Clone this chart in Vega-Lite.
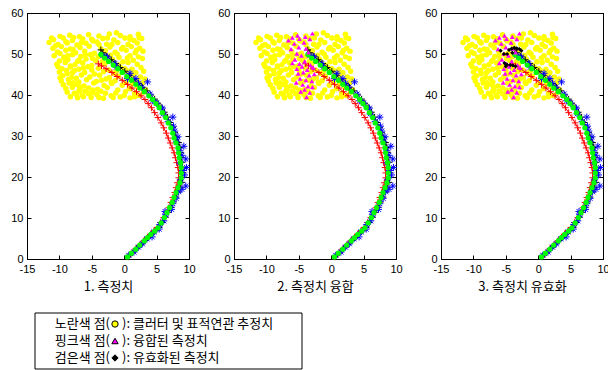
{
"$schema":"https://vega.github.io/schema/vega-lite/v6.json",
"padding":{"left":10,"top":6,"right":0,"bottom":0},
"config":{
 "view":{"stroke":"#000","strokeWidth":1},
 "axis":{"grid":false,"domainColor":"#000","tickColor":"#000","tickSize":-4,"labelPadding":8,"labelFlush":false,"labelOverlap":false,"labelFont":"Liberation Sans","labelFontSize":11,"labelColor":"#000","labelExpr":"'' + datum.value","titleFont":"Noto Sans CJK KR","titleFontSize":13,"titleFontWeight":"normal","titleColor":"#000","titlePadding":6}
},
"datasets":{
"clutter":[
{"x":-8.3,"y":39.6},{"x":-7.2,"y":39.3},{"x":-6.5,"y":40.0},{"x":-5.1,"y":39.4},{"x":-3.2,"y":39.2},{"x":-2.0,"y":39.8},{"x":-0.6,"y":39.5},{"x":0.9,"y":39.3},{"x":2.3,"y":39.9},{"x":-4.2,"y":40.1},
{"x":-8.8,"y":40.7},{"x":-7.7,"y":40.4},{"x":-6.0,"y":40.9},{"x":-4.8,"y":40.6},{"x":-3.6,"y":40.9},{"x":-1.3,"y":40.5},{"x":0.2,"y":40.8},{"x":1.6,"y":40.4},{"x":3.0,"y":40.7},{"x":-7.0,"y":41.0},
{"x":-9.0,"y":41.6},{"x":-8.0,"y":41.9},{"x":-6.8,"y":41.3},{"x":-5.5,"y":41.7},{"x":-4.1,"y":41.4},{"x":-2.6,"y":41.8},{"x":-1.0,"y":41.2},{"x":0.8,"y":41.5},{"x":2.1,"y":41.9},{"x":3.3,"y":41.3},
{"x":-9.4,"y":42.5},{"x":-7.4,"y":42.6},{"x":-6.2,"y":42.2},{"x":-4.7,"y":42.9},{"x":-3.1,"y":42.3},{"x":-1.9,"y":42.8},{"x":-0.3,"y":42.4},{"x":1.3,"y":42.7},{"x":2.6,"y":42.2},{"x":-8.5,"y":42.9},
{"x":-9.7,"y":43.4},{"x":-8.6,"y":43.8},{"x":-7.0,"y":43.2},{"x":-5.8,"y":43.7},{"x":-4.3,"y":43.3},{"x":-2.8,"y":43.9},{"x":-1.4,"y":43.5},{"x":0.3,"y":43.1},{"x":2.0,"y":43.6},{"x":3.2,"y":43.9},
{"x":-9.5,"y":44.7},{"x":-8.1,"y":44.3},{"x":-6.6,"y":44.9},{"x":-5.3,"y":44.4},{"x":-3.8,"y":44.8},{"x":-2.3,"y":44.2},{"x":-0.9,"y":44.6},{"x":1.0,"y":44.9},{"x":2.5,"y":44.4},{"x":-7.4,"y":44.1},
{"x":-10.0,"y":45.6},{"x":-8.8,"y":45.2},{"x":-7.7,"y":45.9},{"x":-6.1,"y":45.5},{"x":-4.6,"y":45.1},{"x":-3.2,"y":45.7},{"x":-1.6,"y":45.3},{"x":0.4,"y":45.9},{"x":1.8,"y":45.4},{"x":3.0,"y":45.8},
{"x":-9.6,"y":46.4},{"x":-8.3,"y":46.8},{"x":-7.0,"y":46.3},{"x":-5.6,"y":46.9},{"x":-4.0,"y":46.5},{"x":-2.4,"y":46.1},{"x":-0.6,"y":46.8},{"x":1.2,"y":46.3},{"x":2.6,"y":46.7},{"x":-10.2,"y":46.9},
{"x":-10.4,"y":47.5},{"x":-9.1,"y":47.9},{"x":-7.6,"y":47.4},{"x":-6.4,"y":47.8},{"x":-5.0,"y":47.2},{"x":-3.0,"y":47.6},{"x":-0.9,"y":47.3},{"x":0.6,"y":47.9},{"x":2.0,"y":47.5},{"x":-8.3,"y":47.1},
{"x":-10.0,"y":48.3},{"x":-8.7,"y":48.6},{"x":-7.2,"y":48.2},{"x":-5.9,"y":48.8},{"x":-4.4,"y":48.4},{"x":-1.8,"y":48.7},{"x":-0.2,"y":48.1},{"x":1.4,"y":48.5},{"x":2.8,"y":48.9},{"x":-3.4,"y":48.1},
{"x":-10.8,"y":49.6},{"x":-9.3,"y":49.2},{"x":-8.0,"y":49.8},{"x":-6.7,"y":49.4},{"x":-5.2,"y":49.9},{"x":-4.0,"y":49.3},{"x":-2.1,"y":49.7},{"x":-0.8,"y":49.2},{"x":0.9,"y":49.6},{"x":2.2,"y":49.3},
{"x":-10.3,"y":50.5},{"x":-9.0,"y":50.9},{"x":-7.5,"y":50.3},{"x":-6.1,"y":50.7},{"x":-4.6,"y":50.2},{"x":-2.9,"y":50.8},{"x":-1.4,"y":50.4},{"x":0.3,"y":50.9},{"x":1.7,"y":50.3},{"x":2.9,"y":50.7},
{"x":-11.0,"y":51.4},{"x":-9.7,"y":51.8},{"x":-8.3,"y":51.2},{"x":-6.8,"y":51.6},{"x":-5.4,"y":51.9},{"x":-3.6,"y":51.3},{"x":-2.2,"y":51.7},{"x":-0.4,"y":51.2},{"x":1.1,"y":51.8},{"x":2.4,"y":51.4},
{"x":-11.6,"y":52.8},{"x":-10.2,"y":52.3},{"x":-8.8,"y":52.7},{"x":-7.3,"y":52.2},{"x":-5.9,"y":52.6},{"x":-4.2,"y":52.9},{"x":-2.7,"y":52.4},{"x":-1.0,"y":52.8},{"x":0.6,"y":52.3},{"x":2.0,"y":52.7},
{"x":-10.9,"y":53.5},{"x":-9.4,"y":53.9},{"x":-8.0,"y":53.3},{"x":-6.4,"y":53.7},{"x":-4.8,"y":53.2},{"x":-3.3,"y":53.8},{"x":-1.6,"y":53.4},{"x":0.1,"y":53.9},{"x":1.5,"y":53.3},{"x":2.7,"y":53.8},
{"x":-9.9,"y":54.3},{"x":-8.4,"y":54.6},{"x":-6.9,"y":54.2},{"x":-5.5,"y":54.7},{"x":-3.9,"y":54.4},{"x":-2.3,"y":54.9},{"x":-0.6,"y":54.5},{"x":0.9,"y":54.2},{"x":2.2,"y":54.8},{"x":-1.2,"y":55.2},
{"x":-11.2,"y":53.9},{"x":-10.6,"y":52.0},{"x":-9.9,"y":50.1},{"x":-9.2,"y":48.9},{"x":-8.9,"y":46.0},{"x":-8.0,"y":45.4},{"x":-7.9,"y":43.0},{"x":-6.9,"y":42.0},{"x":-6.3,"y":39.6},{"x":-5.5,"y":40.3},
{"x":-4.9,"y":41.2},{"x":-2.9,"y":40.4},{"x":-1.7,"y":39.4},{"x":0.0,"y":39.9},{"x":1.6,"y":39.6},{"x":2.8,"y":42.9},{"x":1.5,"y":45.1},{"x":0.1,"y":46.4},{"x":-1.2,"y":45.9},{"x":-2.0,"y":43.1},
{"x":-3.5,"y":43.6},{"x":-5.0,"y":46.1},{"x":-6.3,"y":46.6},{"x":-7.0,"y":48.5},{"x":-6.0,"y":49.8},{"x":-4.9,"y":48.9},{"x":-3.3,"y":49.5},{"x":-1.1,"y":50.0},{"x":0.5,"y":49.0},{"x":1.9,"y":50.9},
{"x":-0.2,"y":51.6},{"x":-1.9,"y":52.3},{"x":-3.9,"y":52.3},{"x":-5.0,"y":53.6},{"x":-6.6,"y":52.8},{"x":-7.8,"y":54.0},{"x":-9.0,"y":53.0},{"x":0.9,"y":53.6},{"x":2.3,"y":54.0},{"x":-2.6,"y":53.9},
{"x":-7.9,"y":51.1},{"x":-8.7,"y":49.6},{"x":-9.9,"y":44.2},{"x":-7.4,"y":40.1},{"x":-3.9,"y":39.4}
],
"truth":[
{"x":0.5,"y":0.5},{"x":1.1,"y":1.4},{"x":1.8,"y":2.4},{"x":2.4,"y":3.4},{"x":3.1,"y":4.4},{"x":3.6,"y":5.2},{"x":4.1,"y":6.0},{"x":4.7,"y":6.8},{"x":5.2,"y":7.6},{"x":5.7,"y":8.8},{"x":6.2,"y":10.1},{"x":6.6,"y":11.3},{"x":7.0,"y":12.5},{"x":7.4,"y":13.8},{"x":7.7,"y":15.0},{"x":8.0,"y":16.2},{"x":8.3,"y":17.4},{"x":8.6,"y":18.6},{"x":8.8,"y":19.8},{"x":8.8,"y":21.0},{"x":8.8,"y":22.3},{"x":8.7,"y":23.5},{"x":8.5,"y":24.7},{"x":8.4,"y":25.9},{"x":8.3,"y":27.1},{"x":8.0,"y":28.3},{"x":7.7,"y":29.5},{"x":7.5,"y":30.7},{"x":7.2,"y":32.0},{"x":6.8,"y":33.2},{"x":6.4,"y":34.5},{"x":5.9,"y":35.7},{"x":5.4,"y":36.9},{"x":4.9,"y":37.9},{"x":4.4,"y":38.9},{"x":3.8,"y":39.8},{"x":3.1,"y":40.8},{"x":2.4,"y":41.7},{"x":1.8,"y":42.6},{"x":1.1,"y":43.6},{"x":0.4,"y":44.5},{"x":-0.3,"y":45.5},{"x":-1.0,"y":46.4},{"x":-1.7,"y":47.3},{"x":-2.4,"y":48.2},{"x":-3.0,"y":49.0},{"x":-3.6,"y":49.9}
],
"red":[
{"k":1,"x":0.6,"y":0.6},{"k":2,"x":1.2,"y":1.5},{"k":3,"x":1.8,"y":2.5},{"k":4,"x":2.4,"y":3.4},{"k":5,"x":3.0,"y":4.4},{"k":6,"x":3.6,"y":5.3},{"k":7,"x":4.1,"y":6.1},{"k":8,"x":4.6,"y":6.9},{"k":9,"x":5.1,"y":7.7},{"k":10,"x":5.6,"y":8.9},{"k":11,"x":6.1,"y":10.1},{"k":12,"x":6.5,"y":11.3},{"k":13,"x":6.9,"y":12.5},{"k":14,"x":7.2,"y":13.8},{"k":15,"x":7.5,"y":15.0},{"k":16,"x":7.8,"y":16.2},{"k":17,"x":8.0,"y":17.4},{"k":18,"x":8.2,"y":18.6},{"k":19,"x":8.4,"y":19.8},{"k":20,"x":8.4,"y":21.0},{"k":21,"x":8.3,"y":22.3},{"k":22,"x":8.1,"y":23.5},{"k":23,"x":7.9,"y":24.7},{"k":24,"x":7.7,"y":25.9},{"k":25,"x":7.4,"y":27.1},{"k":26,"x":7.1,"y":28.3},{"k":27,"x":6.8,"y":29.5},{"k":28,"x":6.5,"y":30.7},{"k":29,"x":6.1,"y":32.0},{"k":30,"x":5.7,"y":33.2},{"k":31,"x":5.2,"y":34.5},{"k":32,"x":4.7,"y":35.7},{"k":33,"x":4.2,"y":36.9},{"k":34,"x":3.7,"y":37.9},{"k":35,"x":3.2,"y":38.9},{"k":36,"x":2.6,"y":39.8},{"k":37,"x":1.9,"y":40.8},{"k":38,"x":1.2,"y":41.7},{"k":39,"x":0.5,"y":42.6},{"k":40,"x":-0.3,"y":43.6},{"k":41,"x":-1.1,"y":44.5},{"k":42,"x":-1.9,"y":45.5},{"k":43,"x":-2.8,"y":46.4},{"k":44,"x":-3.5,"y":47.1},{"k":45,"x":-4.0,"y":47.6}
],
"black":[
{"k":1,"x":0.6,"y":0.5},{"k":2,"x":1.3,"y":1.5},{"k":3,"x":1.9,"y":2.5},{"k":4,"x":2.6,"y":3.5},{"k":5,"x":3.2,"y":4.5},{"k":6,"x":3.8,"y":5.3},{"k":7,"x":4.3,"y":6.1},{"k":8,"x":4.9,"y":6.9},{"k":9,"x":5.4,"y":7.7},{"k":10,"x":5.9,"y":8.9},{"k":11,"x":6.4,"y":10.2},{"k":12,"x":6.8,"y":11.4},{"k":13,"x":7.3,"y":12.6},{"k":14,"x":7.6,"y":13.9},{"k":15,"x":8.0,"y":15.1},{"k":16,"x":8.3,"y":16.3},{"k":17,"x":8.6,"y":17.5},{"k":18,"x":8.9,"y":18.7},{"k":19,"x":9.0,"y":19.9},{"k":20,"x":9.0,"y":21.1},{"k":21,"x":9.0,"y":22.4},{"k":22,"x":8.9,"y":23.6},{"k":23,"x":8.8,"y":24.8},{"k":24,"x":8.7,"y":26.0},{"k":25,"x":8.6,"y":27.2},{"k":26,"x":8.4,"y":28.4},{"k":27,"x":8.1,"y":29.6},{"k":28,"x":7.8,"y":30.8},{"k":29,"x":7.5,"y":32.1},{"k":30,"x":7.1,"y":33.3},{"k":31,"x":6.7,"y":34.6},{"k":32,"x":6.2,"y":35.8},{"k":33,"x":5.7,"y":37.0},{"k":34,"x":5.2,"y":38.0},{"k":35,"x":4.7,"y":39.0},{"k":36,"x":4.1,"y":40.0},{"k":37,"x":3.5,"y":41.0},{"k":38,"x":2.8,"y":41.9},{"k":39,"x":2.2,"y":42.8},{"k":40,"x":1.5,"y":43.8},{"k":41,"x":0.8,"y":44.8},{"k":42,"x":0.1,"y":45.8},{"k":43,"x":-0.6,"y":46.7},{"k":44,"x":-1.3,"y":47.7},{"k":45,"x":-2.0,"y":48.6},{"k":46,"x":-2.7,"y":49.5},{"k":47,"x":-3.3,"y":50.3},{"k":48,"x":-3.6,"y":51.0}
],
"meas":[
{"x":0.7,"y":0.9},{"x":1.5,"y":1.7},{"x":2.2,"y":2.9},{"x":2.8,"y":3.7},{"x":3.5,"y":4.9},{"x":4.3,"y":5.4},{"x":4.6,"y":6.6},{"x":5.4,"y":7.3},{"x":5.5,"y":8.4},{"x":6.1,"y":9.3},{"x":6.4,"y":10.8},{"x":6.3,"y":11.6},{"x":7.3,"y":12.1},{"x":7.5,"y":13.5},{"x":8.0,"y":14.8},{"x":8.4,"y":16.4},{"x":8.9,"y":17.0},{"x":9.5,"y":17.8},{"x":8.7,"y":19.3},{"x":9.3,"y":20.5},{"x":9.0,"y":21.6},{"x":9.6,"y":22.3},{"x":8.6,"y":23.4},{"x":9.5,"y":24.4},{"x":8.9,"y":25.3},{"x":8.6,"y":26.4},{"x":9.2,"y":27.5},{"x":8.1,"y":28.6},{"x":8.3,"y":29.8},{"x":7.8,"y":31.2},{"x":7.6,"y":32.4},{"x":7.5,"y":34.6},{"x":6.8,"y":33.5},{"x":6.0,"y":35.4},{"x":5.9,"y":36.8},{"x":5.0,"y":38.0},{"x":4.4,"y":38.6},{"x":4.0,"y":40.2},{"x":3.6,"y":43.2},{"x":2.7,"y":41.9},{"x":2.2,"y":42.9},{"x":1.8,"y":44.0},{"x":0.9,"y":45.3},{"x":0.5,"y":44.0},{"x":-1.2,"y":46.8},{"x":-1.5,"y":47.6},{"x":-2.6,"y":49.3},{"x":-3.3,"y":49.6}
],
"fused":[
{"x":-6.6,"y":53.3},{"x":-6.0,"y":54.0},{"x":-5.2,"y":54.5},{"x":-4.9,"y":53.7},{"x":-4.2,"y":52.8},{"x":-3.3,"y":53.6},{"x":-2.9,"y":55.0},{"x":-5.7,"y":52.5},{"x":-6.2,"y":51.2},{"x":-5.0,"y":51.6},{"x":-3.9,"y":51.3},{"x":-5.3,"y":50.1},{"x":-4.6,"y":49.6},{"x":-3.5,"y":50.4},{"x":-5.6,"y":48.6},{"x":-4.9,"y":47.6},{"x":-4.1,"y":48.2},{"x":-3.2,"y":47.3},{"x":-5.3,"y":46.4},{"x":-4.5,"y":46.9},{"x":-3.7,"y":46.1},{"x":-2.8,"y":46.7},{"x":-5.1,"y":45.2},{"x":-4.3,"y":45.5},{"x":-3.4,"y":44.8},{"x":-2.6,"y":45.1},{"x":-4.8,"y":44.0},{"x":-3.9,"y":43.6},{"x":-3.0,"y":43.4},{"x":-5.4,"y":43.0},{"x":-4.4,"y":42.5},{"x":-3.6,"y":42.1},{"x":-4.1,"y":41.3},{"x":-3.3,"y":40.6},{"x":-4.7,"y":40.8},{"x":-3.8,"y":39.5},{"x":-2.9,"y":41.9},{"x":-6.0,"y":47.8},{"x":-4.0,"y":54.2}
],
"valid":[
{"x":-5.8,"y":50.8},{"x":-5.3,"y":50.0},{"x":-4.8,"y":50.0},{"x":-4.5,"y":51.0},{"x":-4.1,"y":51.3},{"x":-3.7,"y":51.5},{"x":-3.3,"y":51.4},{"x":-2.9,"y":51.2},{"x":-2.6,"y":50.8},{"x":-4.0,"y":50.3},{"x":-5.2,"y":47.8},{"x":-4.8,"y":47.4},{"x":-4.3,"y":47.3},{"x":-3.9,"y":47.2},{"x":-3.5,"y":47.0},{"x":-5.0,"y":47.0}
],
"legend":[
{"row":1,"pre":"노란색 점(","sym":"clutter","post":"):  클러터  및  표적연관  추정치"},
{"row":2,"pre":"핑크색 점(","sym":"fused","post":"):  융합된  측정치"},
{"row":3,"pre":"검은색 점(","sym":"valid","post":"):  유효화된  측정치"}
]
},
"vconcat":[
{"hconcat":[
{"width":162,"height":246,"resolve":{"axis":{"x":"independent","y":"independent"}},"layer":[
 {"data":{"name":"clutter"},"mark":{"type":"point","filled":true,"shape":"circle","size":30,"color":"#FFFF00","opacity":1},"encoding":{"x":{"field":"x","type":"quantitative","scale":{"domain":[-15,10],"nice":false,"zero":false},"axis":{"values":[-15,-10,-5,0,5,10],"title":"1.  측정치"}},"y":{"field":"y","type":"quantitative","scale":{"domain":[0,60],"nice":false,"zero":false},"axis":{"values":[0,10,20,30,40,50,60],"title":null}}}},
 {"data":{"name":"red"},"mark":{"type":"line","color":"#FF0000","strokeWidth":1},"encoding":{"x":{"field":"x","type":"quantitative","axis":null},"y":{"field":"y","type":"quantitative","axis":null},"order":{"field":"k"}}},
 {"data":{"name":"red"},"mark":{"type":"point","shape":"M-1,0L1,0M0,-1L0,1","filled":false,"color":"#FF0000","size":42,"strokeWidth":1,"opacity":1},"encoding":{"x":{"field":"x","type":"quantitative","axis":null},"y":{"field":"y","type":"quantitative","axis":null}}},
 {"data":{"name":"black"},"mark":{"type":"line","color":"#000000","strokeWidth":1},"encoding":{"x":{"field":"x","type":"quantitative","axis":null},"y":{"field":"y","type":"quantitative","axis":null},"order":{"field":"k"}}},
 {"data":{"name":"black"},"mark":{"type":"point","shape":"M-1,0L1,0M0,-1L0,1","filled":false,"color":"#000000","size":42,"strokeWidth":1,"opacity":1},"encoding":{"x":{"field":"x","type":"quantitative","axis":null},"y":{"field":"y","type":"quantitative","axis":null}}},
 {"data":{"name":"meas"},"mark":{"type":"point","shape":"M-1,0L1,0M0,-1L0,1M-0.7,-0.7L0.7,0.7M-0.7,0.7L0.7,-0.7","filled":false,"color":"#0000FF","size":50,"strokeWidth":1,"opacity":1},"encoding":{"x":{"field":"x","type":"quantitative","axis":null},"y":{"field":"y","type":"quantitative","axis":null}}},
 {"data":{"name":"truth"},"mark":{"type":"point","filled":true,"shape":"circle","size":28,"color":"#00FF00","opacity":1},"encoding":{"x":{"field":"x","type":"quantitative","axis":null},"y":{"field":"y","type":"quantitative","axis":null}}},
 {"data":{"name":"truth"},"mark":{"type":"point","opacity":0},"encoding":{"x":{"field":"x","type":"quantitative","axis":{"orient":"top","labels":false,"values":[-15,-10,-5,0,5,10],"title":null}},"y":{"field":"y","type":"quantitative","axis":{"orient":"right","labels":false,"values":[0,10,20,30,40,50,60],"title":null}}}}
]},
{"width":162,"height":246,"resolve":{"axis":{"x":"independent","y":"independent"}},"layer":[
 {"data":{"name":"clutter"},"mark":{"type":"point","filled":true,"shape":"circle","size":30,"color":"#FFFF00","opacity":1},"encoding":{"x":{"field":"x","type":"quantitative","scale":{"domain":[-15,10],"nice":false,"zero":false},"axis":{"values":[-15,-10,-5,0,5,10],"title":"2.  측정치  융합"}},"y":{"field":"y","type":"quantitative","scale":{"domain":[0,60],"nice":false,"zero":false},"axis":{"values":[0,10,20,30,40,50,60],"title":null}}}},
 {"data":{"name":"red"},"mark":{"type":"line","color":"#FF0000","strokeWidth":1},"encoding":{"x":{"field":"x","type":"quantitative","axis":null},"y":{"field":"y","type":"quantitative","axis":null},"order":{"field":"k"}}},
 {"data":{"name":"red"},"mark":{"type":"point","shape":"M-1,0L1,0M0,-1L0,1","filled":false,"color":"#FF0000","size":42,"strokeWidth":1,"opacity":1},"encoding":{"x":{"field":"x","type":"quantitative","axis":null},"y":{"field":"y","type":"quantitative","axis":null}}},
 {"data":{"name":"black"},"mark":{"type":"line","color":"#000000","strokeWidth":1},"encoding":{"x":{"field":"x","type":"quantitative","axis":null},"y":{"field":"y","type":"quantitative","axis":null},"order":{"field":"k"}}},
 {"data":{"name":"black"},"mark":{"type":"point","shape":"M-1,0L1,0M0,-1L0,1","filled":false,"color":"#000000","size":42,"strokeWidth":1,"opacity":1},"encoding":{"x":{"field":"x","type":"quantitative","axis":null},"y":{"field":"y","type":"quantitative","axis":null}}},
 {"data":{"name":"meas"},"mark":{"type":"point","shape":"M-1,0L1,0M0,-1L0,1M-0.7,-0.7L0.7,0.7M-0.7,0.7L0.7,-0.7","filled":false,"color":"#0000FF","size":50,"strokeWidth":1,"opacity":1},"encoding":{"x":{"field":"x","type":"quantitative","axis":null},"y":{"field":"y","type":"quantitative","axis":null}}},
 {"data":{"name":"truth"},"mark":{"type":"point","filled":true,"shape":"circle","size":28,"color":"#00FF00","opacity":1},"encoding":{"x":{"field":"x","type":"quantitative","axis":null},"y":{"field":"y","type":"quantitative","axis":null}}},
 {"data":{"name":"fused"},"mark":{"type":"point","filled":true,"shape":"triangle-up","size":24,"color":"#FF00FF","opacity":1},"encoding":{"x":{"field":"x","type":"quantitative","axis":null},"y":{"field":"y","type":"quantitative","axis":null}}},
 {"data":{"name":"truth"},"mark":{"type":"point","opacity":0},"encoding":{"x":{"field":"x","type":"quantitative","axis":{"orient":"top","labels":false,"values":[-15,-10,-5,0,5,10],"title":null}},"y":{"field":"y","type":"quantitative","axis":{"orient":"right","labels":false,"values":[0,10,20,30,40,50,60],"title":null}}}}
]},
{"width":162,"height":246,"resolve":{"axis":{"x":"independent","y":"independent"}},"layer":[
 {"data":{"name":"clutter"},"mark":{"type":"point","filled":true,"shape":"circle","size":30,"color":"#FFFF00","opacity":1},"encoding":{"x":{"field":"x","type":"quantitative","scale":{"domain":[-15,10],"nice":false,"zero":false},"axis":{"values":[-15,-10,-5,0,5,10],"title":"3.  측정치  유효화"}},"y":{"field":"y","type":"quantitative","scale":{"domain":[0,60],"nice":false,"zero":false},"axis":{"values":[0,10,20,30,40,50,60],"title":null}}}},
 {"data":{"name":"red"},"mark":{"type":"line","color":"#FF0000","strokeWidth":1},"encoding":{"x":{"field":"x","type":"quantitative","axis":null},"y":{"field":"y","type":"quantitative","axis":null},"order":{"field":"k"}}},
 {"data":{"name":"red"},"mark":{"type":"point","shape":"M-1,0L1,0M0,-1L0,1","filled":false,"color":"#FF0000","size":42,"strokeWidth":1,"opacity":1},"encoding":{"x":{"field":"x","type":"quantitative","axis":null},"y":{"field":"y","type":"quantitative","axis":null}}},
 {"data":{"name":"black"},"mark":{"type":"line","color":"#000000","strokeWidth":1},"encoding":{"x":{"field":"x","type":"quantitative","axis":null},"y":{"field":"y","type":"quantitative","axis":null},"order":{"field":"k"}}},
 {"data":{"name":"black"},"mark":{"type":"point","shape":"M-1,0L1,0M0,-1L0,1","filled":false,"color":"#000000","size":42,"strokeWidth":1,"opacity":1},"encoding":{"x":{"field":"x","type":"quantitative","axis":null},"y":{"field":"y","type":"quantitative","axis":null}}},
 {"data":{"name":"meas"},"mark":{"type":"point","shape":"M-1,0L1,0M0,-1L0,1M-0.7,-0.7L0.7,0.7M-0.7,0.7L0.7,-0.7","filled":false,"color":"#0000FF","size":50,"strokeWidth":1,"opacity":1},"encoding":{"x":{"field":"x","type":"quantitative","axis":null},"y":{"field":"y","type":"quantitative","axis":null}}},
 {"data":{"name":"truth"},"mark":{"type":"point","filled":true,"shape":"circle","size":28,"color":"#00FF00","opacity":1},"encoding":{"x":{"field":"x","type":"quantitative","axis":null},"y":{"field":"y","type":"quantitative","axis":null}}},
 {"data":{"name":"fused"},"mark":{"type":"point","filled":true,"shape":"triangle-up","size":24,"color":"#FF00FF","opacity":1},"encoding":{"x":{"field":"x","type":"quantitative","axis":null},"y":{"field":"y","type":"quantitative","axis":null}}},
 {"data":{"name":"valid"},"mark":{"type":"point","filled":true,"shape":"diamond","size":18,"color":"#000000","opacity":1},"encoding":{"x":{"field":"x","type":"quantitative","axis":null},"y":{"field":"y","type":"quantitative","axis":null}}},
 {"data":{"name":"truth"},"mark":{"type":"point","opacity":0},"encoding":{"x":{"field":"x","type":"quantitative","axis":{"orient":"top","labels":false,"values":[-15,-10,-5,0,5,10],"title":null}},"y":{"field":"y","type":"quantitative","axis":{"orient":"right","labels":false,"values":[0,10,20,30,40,50,60],"title":null}}}}
]}
],"spacing":45,"bounds":"flush"},
{"width":283,"height":56,"view":{"stroke":null},"layer":[
 {"data":{"values":[{"box":1}]},"mark":{"type":"rect","fill":null,"stroke":"#000","strokeWidth":1},"encoding":{"x":{"value":8},"x2":{"value":275},"y":{"value":0},"y2":{"value":56}}},
 {"data":{"name":"legend"},"mark":{"type":"text","align":"right","baseline":"middle","font":"Noto Sans CJK KR","fontSize":13,"color":"#000"},"encoding":{"x":{"value":83},"y":{"field":"row","type":"ordinal","scale":{"type":"point","padding":0.65},"axis":null},"text":{"field":"pre"}}},
 {"data":{"name":"legend"},"mark":{"type":"point","filled":true,"size":40,"stroke":"#000","strokeWidth":1,"opacity":1},"encoding":{"x":{"value":88},"y":{"field":"row","type":"ordinal","axis":null},"shape":{"field":"sym","type":"nominal","scale":{"domain":["clutter","fused","valid"],"range":["circle","triangle-up","diamond"]},"legend":null},"fill":{"field":"sym","type":"nominal","scale":{"domain":["clutter","fused","valid"],"range":["#FFFF00","#FF00FF","#000000"]},"legend":null}}},
 {"data":{"name":"legend"},"mark":{"type":"text","align":"left","baseline":"middle","font":"Noto Sans CJK KR","fontSize":13,"color":"#000"},"encoding":{"x":{"value":95},"y":{"field":"row","type":"ordinal","axis":null},"text":{"field":"post"}}}
]}
],
"spacing":18
}
